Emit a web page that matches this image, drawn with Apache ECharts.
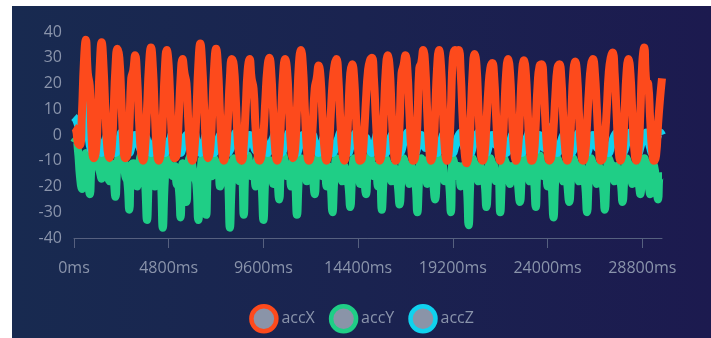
<!DOCTYPE html>
<html>
<head>
<meta charset="utf-8">
<title>Accelerometer</title>
<script src="https://cdn.jsdelivr.net/npm/echarts@6/dist/echarts.min.js"></script>
<style>
  html, body { margin: 0; padding: 0; background: #ffffff; }
  #chart {
    position: absolute; left: 12px; top: 6px; width: 699px; height: 332px;
    background: linear-gradient(90deg, #182a50 0%, #1a2350 50%, #1c1a4f 100%);
  }
</style>
</head>
<body>
<div id="chart"></div>
<script>
// Accelerometer samples, one every 100 ms
const sampleMs = 100;

const accX = [
  3, 2, -3, -4, 8, 28, 37, 24, 19, -2,
  -9, -7, 6, 26, 36, 26, 8, -6, -9, -6,
  8, 26, 33.5, 30, 14, -3, -9, -8, 2, 22,
  25, 31, 22, 5, -7, -10, -5, 10, 27, 34,
  26, 8, -6, -10, -7, 6, 25, 33, 27, 9,
  -5, -9, -8, 5, 22, 29.5, 24, 20, 4, -7,
  -10, -6, 8, 27, 35.5, 27, 10, -5, -9, -6,
  8, 26, 33.5, 26, 8, -6, -10, -7, 6, 22,
  29.5, 27, 14, -2, -9, -10, -4, 10, 25, 29.5,
  22, 18, 3, -7, -10, -8, 0, 14, 26, 30,
  24, 8, -6, -10, -7, 8, 24, 29.5, 25, 10,
  -5, -9, -6, 10, 28, 33, 27, 10, -5, -10,
  -8, 4, 18, 22, 27, 22, 6, -6, -10, -7,
  6, 20, 27, 29.5, 22, 5, -7, -10, -6, 8,
  24, 27.5, 22, 6, -6, -10, -9, 0, 14, 25,
  29, 30, 22, 6, -6, -10, -7, 8, 25, 31,
  26, 9, -5, -10, -8, 4, 24, 27, 31, 25,
  8, -6, -10, -8, 4, 26, 28, 33, 27, 9,
  -5, -10, -7, 8, 26, 33, 27, 9, -6, -10,
  -6, 10, 30, 33, 31, 33, 24, 6, -7, -11,
  -8, 6, 24, 31.5, 27, 10, -5, -10, -8, 4,
  18, 26, 28, 22, 6, -6, -10, -6, 8, 24,
  29.5, 24, 7, -6, -10, -6, 8, 24, 29, 24,
  8, -6, -10, -8, 4, 20, 27, 27.5, 20, 4,
  -7, -10, -8, 2, 16, 26, 27.5, 22, 6, -6,
  -10, -7, 7, 24, 28.5, 23, 7, -6, -10, -8,
  4, 18, 27, 29.5, 24, 10, -4, -10, -9, -2,
  10, 24, 30, 32, 24, 8, -6, -10, -7, 8,
  24, 29.5, 24, 8, -6, -10, -7, 8, 28, 34,
  21, 20, 6, -6, -10, -8, 4, 14, 22
];

const accY = [
  -3, -2, -6, -16, -21, -12, -7, -16, -23, -11,
  -8, -9, -11, -14, -17, -8, -12, -16, -18, -11,
  -16, -24, -12, -8, -11, -9, -16, -18, -29, -12,
  -11, -12, -20, -12, -8, -11, -18, -33, -16, -9,
  -11, -20, -12, -8, -16, -36, -18, -9, -11, -12,
  -16, -12, -19, -20, -32, -11, -16, -26, -11, -8,
  -12, -16, -19, -33, -18, -9, -16, -31, -12, -11,
  -16, -9, -11, -12, -20, -12, -8, -11, -16, -36,
  -18, -9, -11, -12, -18, -16, -31, -11, -8, -12,
  -16, -12, -20, -9, -11, -18, -33, -16, -9, -11,
  -12, -19, -9, -16, -25, -11, -8, -12, -16, -12,
  -20, -9, -16, -31, -16, -9, -11, -12, -18, -9,
  -11, -16, -23, -11, -8, -12, -16, -12, -20, -12,
  -18, -30, -16, -9, -11, -12, -18, -12, -16, -19,
  -28, -16, -9, -11, -12, -19, -9, -16, -23, -11,
  -8, -12, -16, -12, -20, -11, -29, -16, -9, -11,
  -12, -18, -12, -16, -19, -27, -16, -9, -11, -12,
  -19, -12, -16, -18, -30, -16, -9, -11, -12, -19,
  -9, -11, -18, -25, -16, -9, -11, -12, -18, -16,
  -18, -30, -9, -12, -16, -12, -20, -12, -16, -19,
  -35, -16, -9, -11, -12, -18, -12, -16, -18, -28,
  -16, -9, -11, -12, -18, -16, -30, -16, -9, -11,
  -12, -19, -12, -16, -11, -19, -26, -16, -9, -11,
  -12, -18, -12, -16, -28, -11, -8, -12, -16, -12,
  -20, -12, -18, -32, -16, -9, -11, -12, -18, -11,
  -19, -26, -16, -9, -11, -12, -18, -12, -16, -19,
  -30, -16, -9, -11, -12, -19, -12, -16, -19, -29,
  -16, -9, -11, -12, -18, -12, -16, -18, -26, -16,
  -9, -11, -12, -19, -12, -16, -18, -23, -11, -9,
  -16, -19, -23, -11, -12, -18, -25, -16, -16
];

const accZ = [
  7, 6, 4, 2, 5, 9, 14, 3, -4, -6,
  -3, 1, -2, -5, -7, -5, -2, 0, -1, -4,
  -6, -7, -5, -2, 1, 0, -3, -6, -7, -5,
  -2, 0, -1, -4, -6, -3, 0, -2, -5, -7,
  -6, -3, 0, 1, -2, -5, -7, -6, -3, -1,
  1, -1, -4, -6, -7, -5, -2, 0, -2, -5,
  -1, 1, -2, -5, -7, -5, -2, 0, -1, -4,
  -6, -7, -5, -2, 0, 1, -2, -5, -7, -6,
  -4, -1, 1, -1, -3, -6, -7, -5, -2, 0,
  -1, -4, -6, -3, 0, 1, -2, -5, -7, -6,
  -3, -1, 1, -2, -5, -7, -6, -3, -1, 1,
  0, -3, -6, -7, -5, -2, 0, -1, -3, -5,
  -2, 0, -3, -6, -7, -5, -2, 0, 1, -2,
  -5, -7, -6, -3, -1, 1, -1, -4, -6, -7,
  -5, -2, 0, 1, -1, -4, -6, -3, -1, -4,
  -6, -7, -4, -1, 1, 0, -3, -6, -7, -5,
  -2, 0, 1, -2, -5, -7, -6, -3, -1, 1,
  0, -3, -6, -7, -5, -2, 0, -2, -5, -3,
  0, 1, -2, -5, -7, -6, -3, 0, 1, -1,
  -4, -6, -7, -5, -2, 0, 1, -2, -5, -3,
  -6, -7, -5, -2, 0, 1, -1, -4, -6, -7,
  -5, -2, 0, -1, -4, -1, 1, -2, -5, -7,
  -6, -3, 0, 1, -1, -4, -6, -7, -5, -2,
  0, 2, -1, -4, -6, -3, 0, -2, -5, -1,
  1, 3, 0, -3, -6, -7, -5, -2, 0, 1,
  -2, -5, -7, -6, -3, 0, 1, -1, -4, -6,
  -7, -5, -2, 0, -2, -5, -1, 1, -1, -4,
  -6, -7, -5, -2, 0, 1, -2, -5, -7, -6,
  -3, 0, 1, -1, -4, -6, -7, -5, -2, 0,
  1, -2, -5, -7, -6, -3, 0, 1, 0
];

// Time stamps used as the category axis
const timeLabels = accX.map((_, i) => (i * sampleMs) + 'ms');

const seriesNames = ['accX', 'accY', 'accZ'];
const seriesColors = ['#fd4a1c', '#1fce86', '#10d2ee'];
const seriesData = [accX, accY, accZ];
const seriesZ = [4, 2, 3];

const textColor = '#8a94ab';
const axisColor = '#56607f';
const fontFamily = '"Open Sans", "Noto Sans", sans-serif';

const chart = echarts.init(document.getElementById('chart'), null, { renderer: 'canvas' });

chart.setOption({
  backgroundColor: 'transparent',
  animation: false,
  textStyle: { fontFamily: fontFamily },
  grid: { left: 62, right: 49, top: 26, bottom: 100 },
  legend: {
    top: 293,
    left: 'center',
    icon: 'circle',
    itemWidth: 25,
    itemHeight: 25,
    itemGap: 14,
    textStyle: { color: textColor, fontSize: 16, fontFamily: fontFamily },
    data: seriesNames.map((name, i) => ({
      name: name,
      itemStyle: { color: '#8a94a8', borderColor: seriesColors[i], borderWidth: 4.5 }
    }))
  },
  xAxis: {
    type: 'category',
    boundaryGap: false,
    data: timeLabels,
    axisLine: { show: true, onZero: false, lineStyle: { color: axisColor, width: 1 } },
    axisTick: { show: true, interval: 47, length: 10, lineStyle: { color: axisColor } },
    axisLabel: { interval: 47, margin: 22, color: textColor, fontSize: 16, fontFamily: fontFamily },
    splitLine: { show: false }
  },
  yAxis: {
    type: 'value',
    min: -40,
    max: 40,
    interval: 10,
    axisLine: { show: false },
    axisTick: { show: false },
    splitLine: { show: false },
    axisLabel: { margin: 12, color: textColor, fontSize: 16, fontFamily: fontFamily }
  },
  series: seriesNames.map((name, i) => ({
    name: name,
    type: 'line',
    data: seriesData[i],
    smooth: true,
    showSymbol: false,
    symbol: 'none',
    z: seriesZ[i],
    color: seriesColors[i],
    lineStyle: { color: seriesColors[i], width: 8 }
  }))
});
</script>
</body>
</html>
